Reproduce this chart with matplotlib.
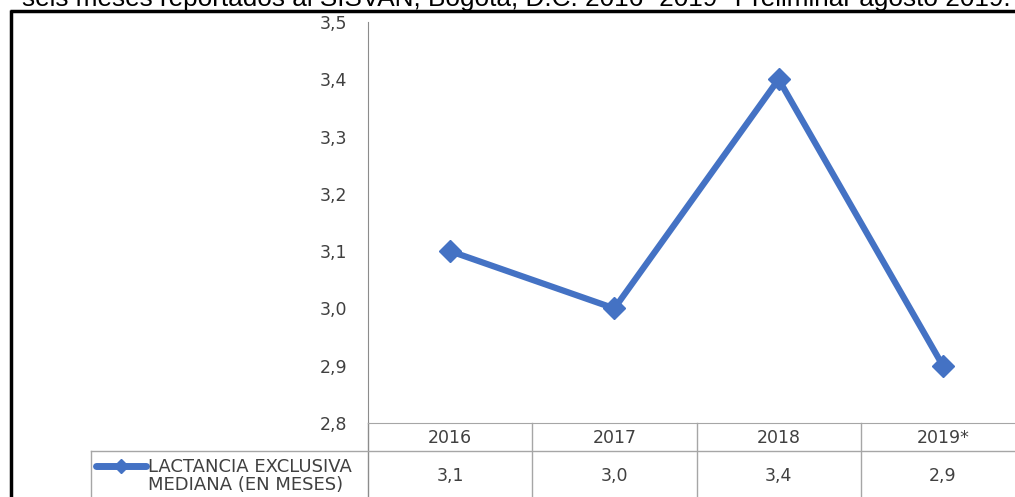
import matplotlib.pyplot as plt
import matplotlib.transforms as mtransforms

# Data
years = ['2016', '2017', '2018', '2019*']
mediana = [3.1, 3.0, 3.4, 2.9]
serie = 'LACTANCIA EXCLUSIVA\nMEDIANA (EN MESES)'
yticks = [2.8, 2.9, 3.0, 3.1, 3.2, 3.3, 3.4, 3.5]
titulo = 'seis meses reportados al SISVAN, Bogotá, D.C. 2016 -2019 *Preliminar agosto 2019.'

W, H = 1015, 497
blue = '#4472C4'
txt = '#404040'
grid = '#a6a6a6'
fs = 12.5

fig = plt.figure(figsize=(W / 100, H / 100), dpi=100)

# overlay in pixel units for frame, title and table
ov = fig.add_axes([0, 0, 1, 1])
ov.set_xlim(0, W)
ov.set_ylim(H, 0)
ov.axis('off')

# chart area
ax = fig.add_axes([368 / W, (H - 423) / H, 657 / W, 401 / H])
ax.set_xlim(-0.5, len(years) - 0.5)
ax.set_ylim(yticks[0], yticks[-1])
ax.plot(range(len(years)), mediana, color=blue, lw=4.5, marker='D', ms=11,
        solid_joinstyle='miter', zorder=3)
ax.set_yticks(yticks)
ax.set_yticklabels([f'{v:.1f}'.replace('.', ',') for v in yticks],
                   fontsize=fs, color=txt, family='DejaVu Sans')
ax.tick_params(axis='y', length=0, pad=15)
ax.set_xticks([])
for s in ['top', 'right']:
    ax.spines[s].set_visible(False)
ax.spines['left'].set_color('#8c8c8c')
ax.spines['bottom'].set_color(grid)
ax.patch.set_alpha(0)

# data table below the axis
bt = mtransforms.blended_transform_factory(ax.transData, ov.transData)
for i in range(len(years)):
    ov.plot([i - 0.5, i - 0.5], [423, H], color='#8c8c8c' if i == 0 else grid,
            lw=1, transform=bt, clip_on=False)
    ov.text(i, 438, years[i], transform=bt, ha='center', va='center',
            fontsize=fs, color=txt, family='DejaVu Sans')
    ov.text(i, 476, f'{mediana[i]:.1f}'.replace('.', ','), transform=bt,
            ha='center', va='center', fontsize=fs, color=txt, family='DejaVu Sans')
ov.plot([91, W], [451, 451], color=grid, lw=1)
ov.plot([91, 91], [451, H], color=grid, lw=1)
ov.plot([96, 146], [466, 466], color=blue, lw=5, solid_capstyle='round')
ov.plot([121], [466], marker='D', ms=7, color=blue)
ov.text(148, 476, serie, ha='left', va='center', fontsize=13, color=txt,
        family='DejaVu Sans', linespacing=1.0)

# frame and cropped title (cut at the top edge, as in the source image)
ov.plot([10, W], [10.5, 10.5], color='black', lw=2.5, solid_capstyle='butt')
ov.plot([11, 11], [9.5, H], color='black', lw=2.5, solid_capstyle='butt')
ov.text(516, 6, titulo, ha='center', va='baseline', fontsize=18.8,
        family='Liberation Sans', color='black')

fig.savefig('out.png', dpi=100)
